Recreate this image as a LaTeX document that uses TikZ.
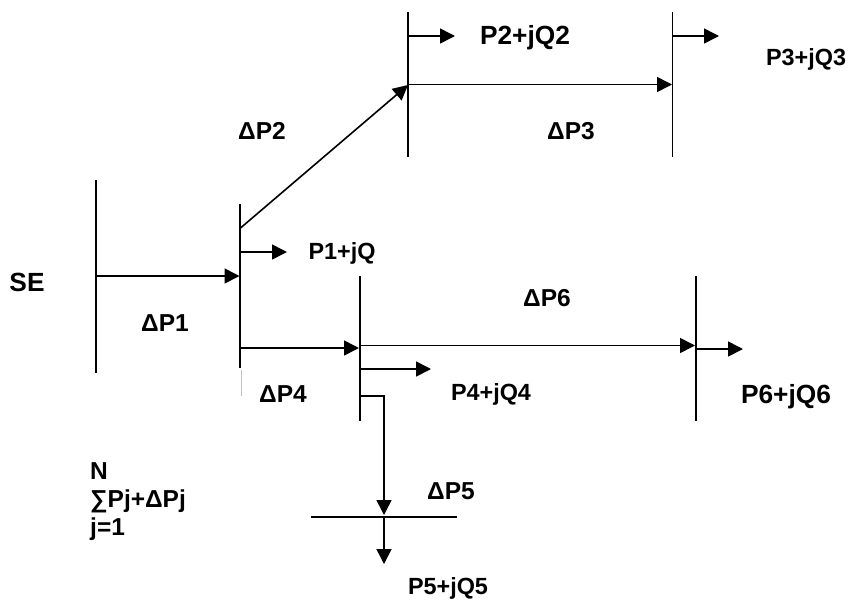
\documentclass[tikz,border=0pt]{standalone}
\usepackage{fontspec}
\setmainfont{Liberation Sans}
\usetikzlibrary{arrows.meta}
\begin{document}
\begin{tikzpicture}[x=1pt,y=-1pt,
 ln/.style={line width=1.6pt,black},
 ar/.style={ln,-{Triangle[length=15pt,width=15pt]}},
 lb/.style={font=\bfseries\fontsize{23.4pt}{28pt}\selectfont,inner sep=0pt,anchor=center},
 ld/.style={font=\bfseries\fontsize{24.5pt}{28pt}\selectfont,inner sep=0pt,anchor=center},
 lbb/.style={font=\bfseries\fontsize{26.3pt}{28pt}\selectfont,inner sep=0pt,anchor=center}]
\useasboundingbox (0,0) rectangle (848,600);
\fill[white] (0,0) rectangle (848,600);
\coordinate (b0t) at (96,180); \coordinate (b0b) at (96,373);
\coordinate (b1t) at (240,204); \coordinate (b1b) at (240,368);
\coordinate (g1t) at (241.5,370); \coordinate (g1b) at (241.5,396);
\coordinate (b2t) at (408,12); \coordinate (b2b) at (408,157);
\coordinate (b3t) at (672.5,12); \coordinate (b3b) at (672.5,157);
\coordinate (b4t) at (360,276); \coordinate (b4b) at (360,421);
\coordinate (b6t) at (696,276); \coordinate (b6b) at (696,421);
\coordinate (b5l) at (311,517); \coordinate (b5r) at (457,517);
\draw[ln] (b0t)--(b0b);
\draw[ln] (b1t)--(b1b);
\draw[line width=0.8pt,black!25] (g1t)--(g1b);
\draw[ln] (b2t)--(b2b);
\draw[ln] (b3t)--(b3b);
\draw[ln] (b4t)--(b4b);
\draw[ln] (b6t)--(b6b);
\draw[ln] (b5l)--(b5r);
\coordinate (a) at (96,276); \coordinate (a2) at (239.5,276);
\draw[ar] (a)--(a2);
\coordinate (c) at (240.5,228); \coordinate (c2) at (408,85);
\draw[ar] (c)--(c2);
\coordinate (d) at (408,84.5); \coordinate (d2) at (672,84.5);
\draw[ar] (d)--(d2);
\coordinate (e) at (408,36); \coordinate (e2) at (455,36);
\draw[ar] (e)--(e2);
\coordinate (f) at (672.5,36); \coordinate (f2) at (719,36);
\draw[ar] (f)--(f2);
\coordinate (g) at (240,252); \coordinate (g2) at (287,252);
\draw[ar] (g)--(g2);
\coordinate (h) at (240,348); \coordinate (h2) at (359,348);
\draw[ar] (h)--(h2);
\coordinate (i) at (360,345.5); \coordinate (i2) at (695,345.5);
\draw[ar] (i)--(i2);
\coordinate (j) at (696,349); \coordinate (j2) at (743,349);
\draw[ar] (j)--(j2);
\coordinate (k) at (360,369); \coordinate (k2) at (431,369);
\draw[ar] (k)--(k2);
\coordinate (l) at (360,396); \coordinate (l1) at (384,396); \coordinate (l2) at (384,515);
\draw[ar] (l)--(l1)--(l2);
\coordinate (m) at (384,517); \coordinate (m2) at (384,564);
\draw[ar] (m)--(m2);
\node[lbb] (t1) at (525,38) {P2+jQ2};
\node[lb] (t2) at (806,59) {P3+jQ3};
\node[ld] (t3) at (262,131) {ΔP2};
\node[ld] (t4) at (571,131) {ΔP3};
\node[lb] (t5) at (342,253) {P1+jQ};
\node[lbb] (t6) at (27,282) {SE};
\node[ld] (t7) at (547,298) {ΔP6};
\node[ld] (t8) at (165,323) {ΔP1};
\node[ld] (t9) at (283,394) {ΔP4};
\node[lb] (t10) at (491,394) {P4+jQ4};
\node[lbb] (t11) at (786,397) {P6+jQ6};
\node[ld] (t12) at (451,491) {ΔP5};
\node[ld,align=left,anchor=north west] (t13) at (90,462) {N\\∑Pj+ΔPj\\j=1};
\node[lb] (t14) at (448,588) {P5+jQ5};
\end{tikzpicture}
\end{document}
